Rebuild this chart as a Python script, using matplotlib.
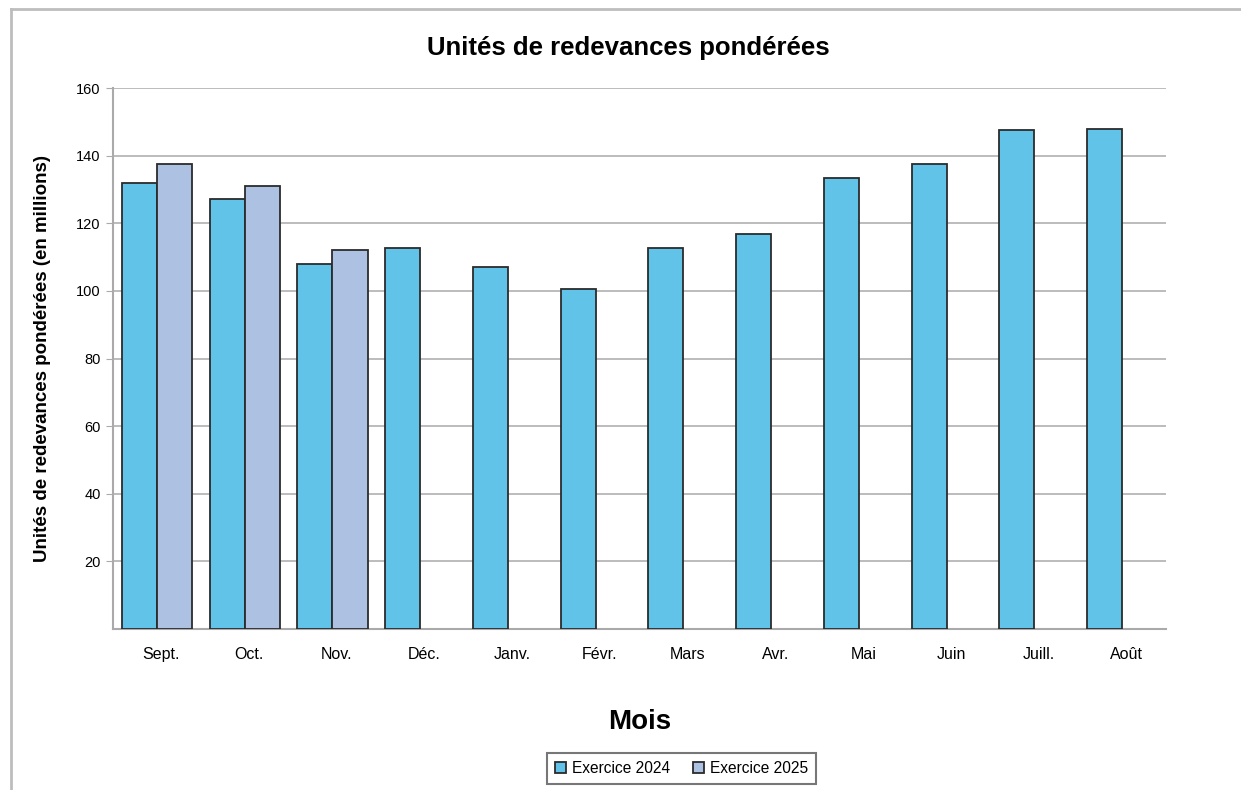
import matplotlib
matplotlib.use("Agg")
import matplotlib.pyplot as plt
from matplotlib.lines import Line2D
import numpy as np

plt.rcParams['font.family'] = ['Liberation Sans', 'DejaVu Sans']

mois = ['Sept.', 'Oct.', 'Nov.', 'Déc.', 'Janv.', 'Févr.', 'Mars',
        'Avr.', 'Mai', 'Juin', 'Juill.', 'Août']
exercice_2024 = [132, 127.2, 108, 112.6, 107, 100.5, 112.6, 116.9,
                 133.3, 137.4, 147.5, 147.9]
exercice_2025 = [137.4, 131, 112.2]

fig = plt.figure(figsize=(12.41, 7.90), dpi=100)
ax = fig.add_axes([0.0911, 0.2038, 0.8485, 0.6848])

# cadre extérieur (haut et gauche seulement)
fig.add_artist(Line2D([0.009, 1.0], [0.988, 0.988], transform=fig.transFigure,
                      color='#bdbdbd', lw=2))
fig.add_artist(Line2D([0.009, 0.009], [0.0, 0.988], transform=fig.transFigure,
                      color='#bdbdbd', lw=2))

x = np.arange(len(mois))
w = 0.4
ax.bar(x - w / 2, exercice_2024, w, color='#62c3e8', edgecolor='#2b2b2b',
       linewidth=1.3, label='Exercice 2024', zorder=3)
ax.bar(x[:len(exercice_2025)] + w / 2, exercice_2025, w, color='#adc1e2',
       edgecolor='#2b2b2b', linewidth=1.3, label='Exercice 2025', zorder=3)

ax.set_xlim(-0.5, len(mois) - 0.5)
ax.set_ylim(0, 160)
ax.set_yticks(range(20, 161, 20))
ax.set_xticks(x + 0.05)
ax.set_xticklabels(mois, fontsize=11.5)
ax.tick_params(axis='x', length=0, pad=13)
ax.tick_params(axis='y', length=5, color='#aaaaaa', labelsize=10.5, pad=4)
ax.yaxis.grid(True, color='#b0b0b0', lw=1.2, zorder=0)
ax.set_axisbelow(True)

for s in ['top', 'right']:
    ax.spines[s].set_visible(False)
for s in ['left', 'bottom']:
    ax.spines[s].set_color('#aaaaaa')
    ax.spines[s].set_linewidth(1.5)

ax.set_title('Unités de redevances pondérées', fontsize=18.5, fontweight='bold',
             pad=24, x=0.489)
ax.set_ylabel('Unités de redevances pondérées (en millions)', fontsize=13.5,
              fontweight='bold', labelpad=18)
ax.set_xlabel('Mois', fontsize=20, fontweight='bold', labelpad=34)

leg = ax.legend(loc='center', bbox_to_anchor=(0.54, -0.258), ncol=2,
                fontsize=11.2, frameon=True, fancybox=False, handlelength=0.7,
                handleheight=0.7, handletextpad=0.4, columnspacing=1.5,
                borderpad=0.5, borderaxespad=0)
leg.get_frame().set_edgecolor('#555555')
leg.get_frame().set_linewidth(1.5)

fig.savefig('out.png', dpi=100)
